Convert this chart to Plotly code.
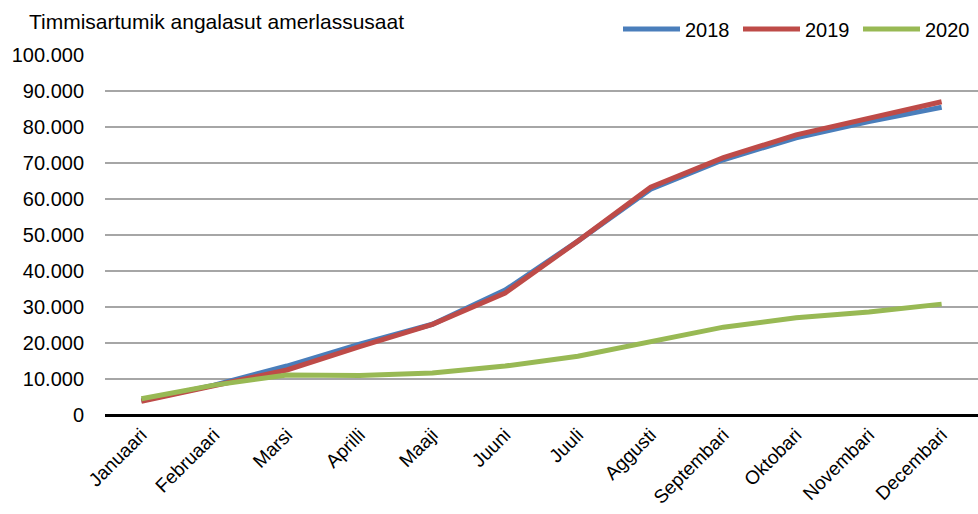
import plotly.graph_objects as go

months = ["Januaari", "Februaari", "Marsi", "Aprilli", "Maaji", "Juuni", "Juuli",
          "Aggusti", "Septembari", "Oktobari", "Novembari", "Decembari"]
v2018 = [4000, 8300, 13600, 19700, 25200, 34700, 48300, 62700, 70900, 77000, 81500, 85500]
v2019 = [3800, 8200, 12500, 19000, 25200, 33900, 48300, 63300, 71500, 77800, 82400, 87000]
v2020 = [4500, 8300, 11100, 11000, 11700, 13600, 16300, 20500, 24400, 27000, 28600, 30800]
ytick_vals = [0, 10000, 20000, 30000, 40000, 50000, 60000, 70000, 80000, 90000, 100000]
ytick_text = ["0", "10.000", "20.000", "30.000", "40.000", "50.000", "60.000",
              "70.000", "80.000", "90.000", "100.000"]
title_text = "Timmisartumik angalasut amerlassusaat"

fig = go.Figure()
for name, vals, col in [("2018", v2018, "#4a7ebb"), ("2019", v2019, "#be4b48"), ("2020", v2020, "#98b954")]:
    fig.add_trace(go.Scatter(x=months, y=vals, name=name, mode="lines",
                             line=dict(color=col, width=5)))

fig.update_layout(
    width=978, height=514,
    margin=dict(l=105, r=0, t=55, b=99),
    paper_bgcolor="white", plot_bgcolor="white",
    font=dict(family="Liberation Sans, Arial, sans-serif", size=20, color="black"),
    showlegend=True,
    legend=dict(orientation="h", x=1.0, xanchor="right", y=1.072, yanchor="middle",
                font=dict(size=20), itemwidth=57, entrywidth=48, entrywidthmode="pixels",
                tracegroupgap=0, bgcolor="rgba(0,0,0,0)"),
    annotations=[dict(text=title_text, xref="paper", yref="paper", x=-0.089, y=1.092,
                      xanchor="left", yanchor="middle", showarrow=False,
                      font=dict(size=21))],
)
fig.update_xaxes(range=[-0.5, 11.5], tickangle=-45, showgrid=False, showline=False,
                 ticks="", tickfont=dict(size=19), zeroline=False, automargin=False,
                 ticklabelstandoff=4)
fig.update_yaxes(range=[0, 100000], tickvals=ytick_vals, ticktext=ytick_text,
                 showgrid=True, gridcolor="#a6a6a6", gridwidth=1.5,
                 zeroline=True, zerolinecolor="black", zerolinewidth=3,
                 tickfont=dict(size=20), ticks="", automargin=False,
                 ticklabelstandoff=20)

fig.write_html("out.html", config={"displayModeBar": False},
               post_script="document.body.style.margin='0px';document.body.style.overflow='hidden';")
